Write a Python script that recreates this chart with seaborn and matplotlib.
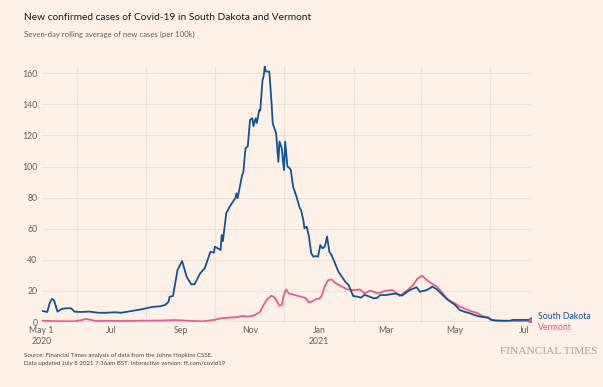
import matplotlib
matplotlib.use("Agg")
import matplotlib.pyplot as plt
import seaborn as sns
import pandas as pd

# ---- data -------------------------------------------------------------
sd_dates = ["2020-05-01", "2020-05-06", "2020-05-08", "2020-05-10", "2020-05-11", "2020-05-12",
            "2020-05-14", "2020-05-15", "2020-05-19", "2020-05-23", "2020-05-27", "2020-05-30",
            "2020-06-05", "2020-06-12", "2020-06-20", "2020-06-26", "2020-07-05", "2020-07-10",
            "2020-07-16", "2020-07-25", "2020-07-30", "2020-08-05", "2020-08-09", "2020-08-14",
            "2020-08-18", "2020-08-21", "2020-08-22", "2020-08-25", "2020-08-27", "2020-08-29",
            "2020-09-02", "2020-09-06", "2020-09-10", "2020-09-13", "2020-09-18", "2020-09-22",
            "2020-09-27", "2020-09-30", "2020-10-01", "2020-10-06", "2020-10-07", "2020-10-08",
            "2020-10-11", "2020-10-14", "2020-10-19", "2020-10-20", "2020-10-21", "2020-10-25",
            "2020-10-26", "2020-10-28", "2020-10-30", "2020-11-01", "2020-11-03", "2020-11-04",
            "2020-11-06", "2020-11-07", "2020-11-09", "2020-11-10", "2020-11-12", "2020-11-13",
            "2020-11-14", "2020-11-15", "2020-11-18", "2020-11-20", "2020-11-21", "2020-11-23",
            "2020-11-24", "2020-11-26", "2020-11-27", "2020-11-29", "2020-11-30", "2020-12-01",
            "2020-12-02", "2020-12-04", "2020-12-06", "2020-12-07", "2020-12-09", "2020-12-12",
            "2020-12-15", "2020-12-16", "2020-12-18", "2020-12-19", "2020-12-21", "2020-12-23",
            "2020-12-25", "2020-12-27", "2020-12-29", "2020-12-31", "2021-01-02", "2021-01-04",
            "2021-01-06", "2021-01-08", "2021-01-10", "2021-01-12", "2021-01-15", "2021-01-18",
            "2021-01-21", "2021-01-24", "2021-01-27", "2021-01-30", "2021-01-31", "2021-02-04",
            "2021-02-07", "2021-02-10", "2021-02-14", "2021-02-18", "2021-02-21", "2021-02-24",
            "2021-03-01", "2021-03-06", "2021-03-10", "2021-03-15", "2021-03-19", "2021-03-22",
            "2021-03-28", "2021-03-31", "2021-04-06", "2021-04-11", "2021-04-15", "2021-04-20",
            "2021-04-24", "2021-04-27", "2021-05-01", "2021-05-05", "2021-05-09", "2021-05-14",
            "2021-05-18", "2021-05-23", "2021-05-27", "2021-05-30", "2021-06-02", "2021-06-06",
            "2021-06-12", "2021-06-18", "2021-06-21", "2021-06-27", "2021-07-03", "2021-07-07"]
sd_values = [7.3, 6.5, 12.0, 14.8, 14.6, 14.0,
             9.0, 6.7, 8.5, 8.9, 8.9, 6.7,
             6.5, 6.8, 6.0, 6.0, 6.3, 6.0,
             6.7, 7.8, 8.5, 9.5, 9.9, 10.2,
             11.0, 13.0, 16.3, 16.8, 25.0, 33.5,
             39.3, 29.2, 24.3, 24.3, 31.4, 34.6,
             45.2, 44.6, 48.5, 46.3, 56.0, 52.0,
             70.0, 74.2, 79.6, 82.8, 79.6, 94.5,
             96.0, 111.7, 113.0, 130.0, 131.0, 126.0,
             131.0, 128.0, 136.0, 136.0, 155.6, 158.0,
             164.5, 161.0, 161.0, 140.6, 127.8, 123.5,
             121.3, 103.0, 116.0, 111.7, 104.0, 97.7,
             116.0, 100.0, 98.8, 97.7, 87.0, 80.6,
             73.0, 72.0, 65.6, 60.3, 61.3, 55.0,
             44.2, 42.0, 42.5, 42.0, 49.5, 47.4,
             48.5, 55.0, 45.2, 43.0, 37.8, 32.4,
             29.2, 26.0, 23.8, 18.5, 16.8, 16.3,
             15.7, 17.5, 16.5, 15.3, 15.5, 17.4,
             17.4, 18.0, 18.3, 17.0, 19.0, 20.6,
             22.4, 19.5, 20.6, 22.8, 21.0, 17.4,
             14.6, 13.1, 11.0, 7.8, 6.7, 5.7,
             4.6, 3.5, 3.1, 3.1, 1.4, 0.9,
             0.8, 0.8, 1.4, 1.4, 1.4, 1.3]

vt_dates = ["2020-05-01", "2020-05-15", "2020-05-30", "2020-06-05", "2020-06-09", "2020-06-13",
            "2020-06-18", "2020-07-01", "2020-07-15", "2020-08-01", "2020-08-15", "2020-08-25",
            "2020-09-01", "2020-09-10", "2020-09-20", "2020-10-01", "2020-10-06", "2020-10-15",
            "2020-10-20", "2020-10-25", "2020-10-30", "2020-11-03", "2020-11-07", "2020-11-10",
            "2020-11-13", "2020-11-16", "2020-11-20", "2020-11-23", "2020-11-27", "2020-11-29",
            "2020-12-01", "2020-12-03", "2020-12-05", "2020-12-10", "2020-12-15", "2020-12-20",
            "2020-12-23", "2020-12-26", "2020-12-30", "2021-01-01", "2021-01-03", "2021-01-06",
            "2021-01-09", "2021-01-12", "2021-01-15", "2021-01-20", "2021-01-26", "2021-02-01",
            "2021-02-06", "2021-02-10", "2021-02-15", "2021-02-22", "2021-02-28", "2021-03-07",
            "2021-03-13", "2021-03-20", "2021-03-25", "2021-03-29", "2021-04-02", "2021-04-06",
            "2021-04-11", "2021-04-15", "2021-04-20", "2021-04-24", "2021-04-28", "2021-05-01",
            "2021-05-05", "2021-05-10", "2021-05-15", "2021-05-20", "2021-05-25", "2021-05-30",
            "2021-06-03", "2021-06-10", "2021-06-20", "2021-07-01", "2021-07-07"]
vt_values = [0.9, 0.6, 0.5, 1.2, 2.0, 1.5,
             0.7, 0.8, 0.7, 0.9, 1.0, 1.3,
             1.2, 0.7, 0.5, 1.5, 2.4, 3.0,
             3.1, 3.9, 3.5, 4.0, 5.2, 6.7,
             11.0, 14.6, 17.0, 15.5, 10.5, 11.0,
             18.0, 21.0, 18.5, 17.5, 16.5, 15.5,
             12.5, 13.5, 15.0, 15.0, 16.5, 23.0,
             27.0, 27.4, 25.3, 23.2, 21.0, 20.5,
             21.0, 18.5, 20.2, 18.5, 20.0, 20.6,
             16.8, 20.6, 23.8, 28.1, 29.8, 27.0,
             24.5, 22.8, 18.5, 15.0, 13.0, 12.0,
             10.0, 8.5, 7.0, 6.0, 4.0, 2.5,
             1.3, 1.0, 0.8, 0.5, 0.5]

x_tick_dates = ["2020-05-01", "2020-07-01", "2020-09-01", "2020-11-01",
                "2021-01-01", "2021-03-01", "2021-05-01", "2021-07-01"]
x_tick_labels = ["May 1\n2020", "Jul", "Sep", "Nov", "Jan\n2021", "Mar", "May", "Jul"]
y_ticks = [0, 20, 40, 60, 80, 100, 120, 140, 160]

# ---- style ------------------------------------------------------------
BG = "#FFF1E5"
BLUE = "#0F5499"
PINK = "#F0578A"
GRID = "#EDE1D6"
TXT = "#66605C"

sns.set_style("white")
plt.rcParams["font.family"] = ["Lato", "DejaVu Sans"]

fig = plt.figure(figsize=(6.03, 3.87), dpi=100, facecolor=BG)
ax = fig.add_axes([0.069, 0.1677, 0.8116, 0.6618], facecolor=BG)

sd = pd.DataFrame({"date": pd.to_datetime(sd_dates), "value": sd_values})
vt = pd.DataFrame({"date": pd.to_datetime(vt_dates), "value": vt_values})

# grid
months = pd.date_range("2020-05-01", "2021-07-01", freq="MS")
ax.set_xticks(months, minor=True)
ax.grid(True, which="minor", axis="x", color=GRID, lw=0.8)
ax.grid(True, which="major", axis="y", color=GRID, lw=0.8)
ax.set_axisbelow(True)

sns.lineplot(data=vt, x="date", y="value", ax=ax, color=PINK, lw=1.3)
sns.lineplot(data=sd, x="date", y="value", ax=ax, color=BLUE, lw=1.3)

# end markers
ax.scatter([sd["date"].iloc[-1]], [sd["value"].iloc[-1]], s=10, color=BLUE, zorder=5)
ax.scatter([vt["date"].iloc[-1]], [vt["value"].iloc[-1]], s=10, color=PINK, zorder=6)
ax.annotate("South Dakota", (sd["date"].iloc[-1], sd["value"].iloc[-1]), xytext=(5, 2.5),
            textcoords="offset points", color=BLUE, fontsize=6.3, va="center", ha="left",
            annotation_clip=False)
ax.annotate("Vermont", (vt["date"].iloc[-1], vt["value"].iloc[-1]), xytext=(5, -4.5),
            textcoords="offset points", color=PINK, fontsize=6.3, va="center", ha="left",
            annotation_clip=False)

ax.axhline(0, color="#A8A19B", lw=1.0, zorder=4)

ax.set_xlim(pd.Timestamp("2020-05-01"), pd.Timestamp("2021-07-07"))
ax.set_ylim(0, 164.6)
ax.set_xticks(pd.to_datetime(x_tick_dates))
ax.set_xticklabels(x_tick_labels)
ax.set_yticks(y_ticks)
ax.tick_params(axis="both", which="both", length=0, labelsize=6.3, labelcolor=TXT)
ax.tick_params(axis="x", pad=3)
ax.tick_params(axis="y", pad=3)
ax.set_xlabel("")
ax.set_ylabel("")
for s in ax.spines.values():
    s.set_visible(False)

fig.text(24 / 603, 1 - 18 / 387, "New confirmed cases of Covid-19 in South Dakota and Vermont",
         fontsize=7.3, color="#1A1817", va="center", ha="left")
fig.text(24 / 603, 1 - 34 / 387, "Seven-day rolling average of new cases (per 100k)",
         fontsize=5.6, color=TXT, va="center", ha="left")
fig.text(24 / 603, 1 - 356 / 387,
         "Source: Financial Times analysis of data from the Johns Hopkins CSSE.",
         fontsize=4.4, color="#4D4845", va="center", ha="left")
fig.text(24 / 603, 1 - 364 / 387,
         "Data updated July 8 2021 7.36am BST. Interactive version: ft.com/covid19",
         fontsize=4.4, color="#4D4845", va="center", ha="left")
fig.text(598 / 603, 1 - 352 / 387, "FINANCIAL TIMES", fontsize=8.2, color="#A8A19B",
         family=["Liberation Serif", "DejaVu Serif"], va="center", ha="right")

fig.savefig("out.png", dpi=100, facecolor=BG)
